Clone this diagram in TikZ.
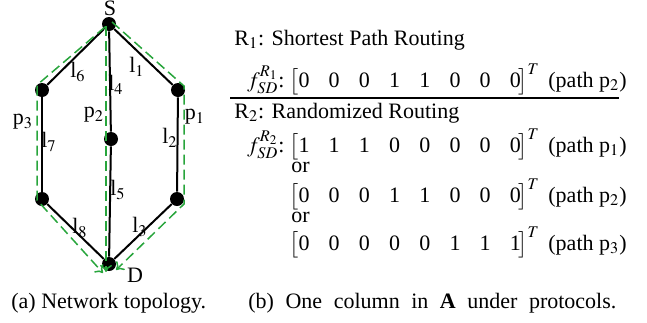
\documentclass[tikz,border=0pt]{standalone}
\usepackage{amsmath}
\usepackage{mathptmx}
\usepackage{fontspec}
\setmainfont{Liberation Serif}
\usetikzlibrary{calc,arrows.meta}
\newcommand{\cell}[1]{\makebox[15.1pt][l]{#1}}
\newcommand{\colvec}[8]{$\big[$\cell{#1}\cell{#2}\cell{#3}\cell{#4}\cell{#5}\cell{#6}\cell{#7}#8\kern-1.2pt$\big]^{T}$}
\tikzset{
  dot/.style={circle,fill=black,inner sep=0pt,minimum size=7pt},
  link/.style={line width=1pt},
  route/.style={color={rgb,255:red,40;green,165;blue,60},dash pattern=on 5pt off 2.5pt,line width=0.75pt,-{To[length=3.5pt,width=6pt]}},
  lbl/.style={inner sep=0pt},
  txt/.style={anchor=base west,inner sep=0pt}
}
\begin{document}
\begin{tikzpicture}[x=0.5pt,y=-0.5pt,font=\fontsize{11}{13}\selectfont]
        \useasboundingbox (0,0) rectangle (647,322);
        \node[dot] (s) at (109,24) {};
        \node[dot] (a) at (42,90) {};
        \node[dot] (b) at (178,90) {};
        \node[dot] (m) at (111,139) {};
        \node[dot] (c) at (42,199) {};
        \node[dot] (e) at (177,199) {};
        \node[dot] (d) at (109,264) {};
        \node[lbl] (sname) at (110,8) {S};
        \node[lbl] (dname) at (135,275) {D};
        \draw[link] (s) -- (b);
        \draw[link] (b) -- (e);
        \draw[link] (e) -- (d);
        \draw[link] (s) -- (m);
        \draw[link] (m) -- (d);
        \draw[link] (s) -- (a);
        \draw[link] (a) -- (c);
        \draw[link] (c) -- (d);
        \draw[route] ([shift={(3,-2)}]s.center) -- ([shift={(6,-4)}]b.center) -- ([shift={(7,5)}]e.center) -- ([shift={(7,6)}]d.center);
        \draw[route] ([shift={(-3,2)}]s.center) -- ([shift={(-3,8)}]d.center);
        \draw[route] ([shift={(-4,3)}]s.center) -- ([shift={(-5,-5)}]a.center) -- ([shift={(-5,1)}]c.center) -- ([shift={(-6,9)}]d.center);
        \node[lbl] (l1) at (137,67) {l$_1$};
        \node[lbl] (l2) at (170,138) {l$_2$};
        \node[lbl] (l3) at (140,227) {l$_3$};
        \node[lbl] (l4) at (116,85) {l$_4$};
        \node[lbl] (l5) at (118,190) {l$_5$};
        \node[lbl] (l6) at (78,72) {l$_6$};
        \node[lbl] (l7) at (49,142) {l$_7$};
        \node[lbl] (l8) at (80,228) {l$_8$};
        \node[lbl] (p1) at (195,117) {p$_1$};
        \node[lbl] (p2) at (94,115) {p$_2$};
        \node[lbl] (p3) at (23,122) {p$_3$};
        \node[txt] (rone) at (234,45) {R$_1$: Shortest Path Routing};
        \node[txt,anchor=base east] (fone) at (285,87) {$f_{SD}^{R_1}$:};
        \node[txt] (vone) at (289,87) {\colvec00011000};
        \node[txt] (pone) at (548,87) {(path p$_2$)};
        \draw[line width=1pt] (230,98) -- (619,98);
        \node[txt] (rtwo) at (234,118) {R$_2$: Randomized Routing};
        \node[txt,anchor=base east] (ftwo) at (285,152) {$f_{SD}^{R_2}$:};
        \node[txt] (vtwo) at (289,152) {\colvec11100000};
        \node[txt] (ptwo) at (548,152) {(path p$_1$)};
        \node[txt] (orone) at (291,172) {or};
        \node[txt] (vthree) at (289,202) {\colvec00011000};
        \node[txt] (pthree) at (548,202) {(path p$_2$)};
        \node[txt] (ortwo) at (291,222) {or};
        \node[txt] (vfour) at (289,250) {\colvec00000111};
        \node[txt] (pfour) at (548,250) {(path p$_3$)};
        \node[txt] (capa) at (11,308) {(a) Network topology.};
        \node[txt] (capb) at (248,308) {\makebox[184pt][s]{(b) One column in \textbf{A} under protocols.}};
      \end{tikzpicture}
\end{document}
